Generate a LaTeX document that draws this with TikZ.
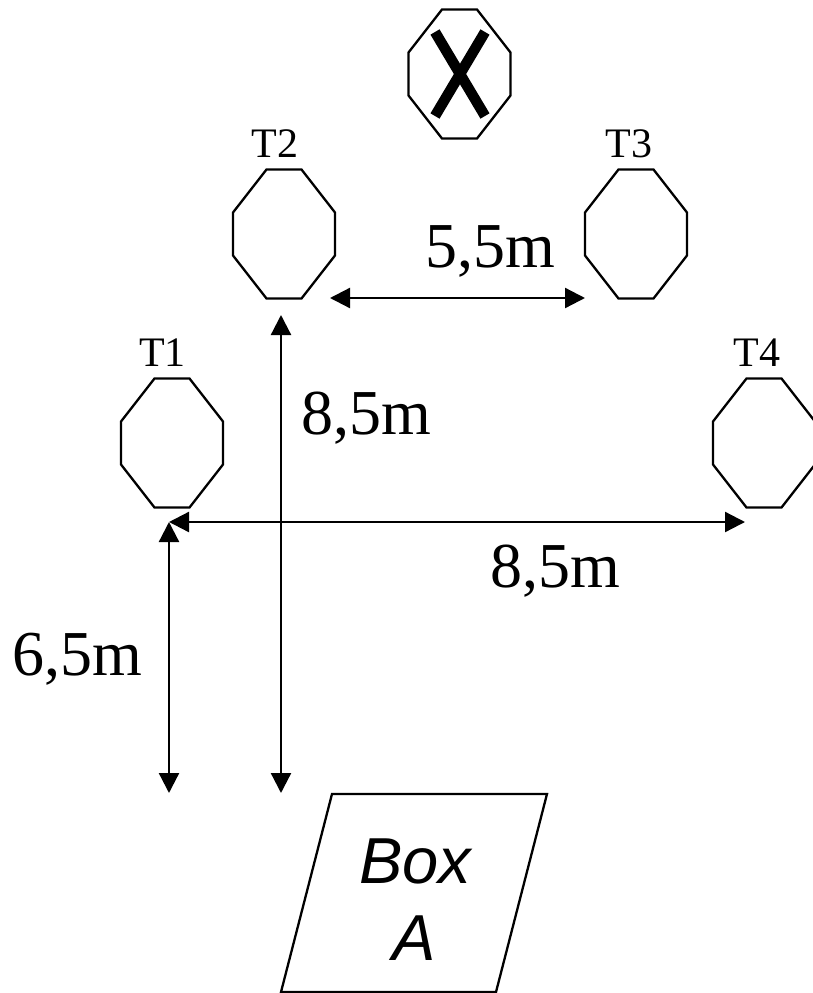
\documentclass[tikz,border=0pt]{standalone}
\usepackage{fontspec}
\setmainfont{Liberation Serif}
\setsansfont{Liberation Sans}
\usetikzlibrary{arrows.meta}
\tikzset{
  every node/.style={inner sep=0pt,outer sep=0pt,anchor=base},
  shapeline/.style={line width=2.3pt,line join=miter,black},
  dim/.style={line width=2.3pt,black,{Triangle[length=20pt,width=20pt]}-{Triangle[length=20pt,width=20pt]}},
  targetlabel/.style={font=\fontsize{42}{42}\selectfont},
  dimlabel/.style={font=\fontsize{64}{64}\selectfont},
  boxlabel/.style={font=\sffamily\itshape\fontsize{65}{65}\selectfont}
}
\newcommand{\octagonat}[2]{%
  \draw[shapeline] (#1-51,#2-64.5) ++(33.5,0) -- ++(35,0) -- ++(33.5,43) -- ++(0,43) -- ++(-33.5,43) -- ++(-35,0) -- ++(-33.5,-43) -- ++(0,-43) -- cycle;}
\begin{document}
\begin{tikzpicture}[x=1pt,y=-1pt]
\useasboundingbox (0,0) rectangle (812,993);
% targets
\octagonat{459.5}{74}
\octagonat{284}{234}
\octagonat{636}{234}
\octagonat{172}{443}
\octagonat{764}{443}
% cross
\coordinate (xa) at (435,32); \coordinate (xb) at (485,116);
\coordinate (xc) at (485,32); \coordinate (xd) at (435,116);
\draw[line width=10.5pt,black] (xa) -- (xb) (xc) -- (xd);
% labels
\node[targetlabel] (t1) at (162.5,366) {T1};
\node[targetlabel] (t2) at (275,157) {T2};
\node[targetlabel] (t3) at (629,157) {T3};
\node[targetlabel] (t4) at (757,366) {T4};
\node[dimlabel] (d1) at (490,267) {5,5m};
\node[dimlabel] (d2) at (366.5,434) {8,5m};
\node[dimlabel] (d3) at (555,587) {8,5m};
\node[dimlabel] (d4) at (77.5,675) {6,5m};
% dimension arrows
\coordinate (p1) at (330,298); \coordinate (p2) at (585,298);
\coordinate (p3) at (281,315); \coordinate (p4) at (281,793);
\coordinate (p5) at (169,522); \coordinate (p6) at (745,522);
\coordinate (p7) at (169,522); \coordinate (p8) at (169,793);
\draw[dim] (p1) -- (p2);
\draw[dim] (p3) -- (p4);
\draw[dim] (p5) -- (p6);
\draw[dim] (p7) -- (p8);
% box
\draw[shapeline] (332,794) -- (547,794) -- (496,992) -- (281,992) -- cycle;
\node[boxlabel] (boxa) at (415.5,883) {Box};
\node[boxlabel] (boxb) at (414,960) {A};
\end{tikzpicture}
\end{document}
